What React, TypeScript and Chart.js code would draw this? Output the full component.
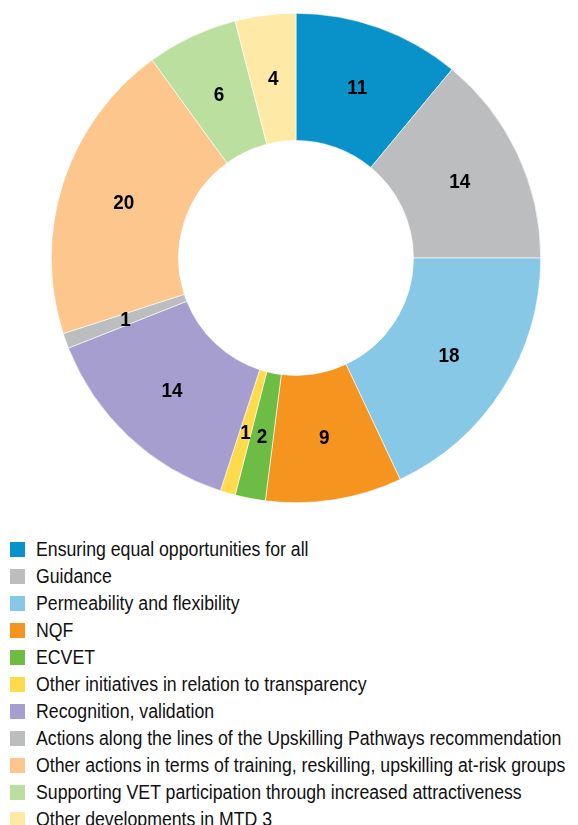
import React, { useEffect, useRef } from "react";
import { Chart, registerables } from "chart.js";

Chart.register(...registerables);

const categories = [
  "Ensuring equal opportunities for all",
  "Guidance",
  "Permeability and flexibility",
  "NQF",
  "ECVET",
  "Other initiatives in relation to transparency",
  "Recognition, validation",
  "Actions along the lines of the Upskilling Pathways recommendation",
  "Other actions in terms of training, reskilling, upskilling at-risk groups",
  "Supporting VET participation through increased attractiveness",
  "Other developments in MTD 3",
];

const values = [11, 14, 18, 9, 2, 1, 14, 1, 20, 6, 4];

const colors = [
  "#0892C9",
  "#BCBDBF",
  "#86C8E6",
  "#F5951F",
  "#6DBD45",
  "#FFDA4A",
  "#A59ECE",
  "#BCBDBF",
  "#FCC68D",
  "#BADF9F",
  "#FFE9A6",
];

const FONT = '"Liberation Sans", Arial, sans-serif';
const LEGEND_SQUEEZE = 0.885;
const LABEL_SQUEEZE = 0.9;

const labelPlugin = {
  id: "sliceLabels",
  afterDatasetsDraw(chart: any) {
    const ctx = chart.ctx;
    const meta = chart.getDatasetMeta(0);
    ctx.save();
    ctx.fillStyle = "#000";
    ctx.font = `bold 21px ${FONT}`;
    ctx.textAlign = "center";
    ctx.textBaseline = "middle";
    meta.data.forEach((arc: any, i: number) => {
      const p = arc.tooltipPosition();
      ctx.save();
      ctx.translate(p.x, p.y + 1);
      ctx.scale(LABEL_SQUEEZE, 1);
      ctx.fillText(String(values[i]), 0, 0);
      ctx.restore();
    });
    ctx.restore();
  },
};

export default function App() {
  const ref = useRef<HTMLCanvasElement>(null);
  useEffect(() => {
    if (!ref.current) return;
    const chart = new Chart(ref.current, {
      type: "doughnut",
      data: {
        labels: categories,
        datasets: [
          {
            data: values,
            backgroundColor: colors,
            borderColor: "#ffffff",
            borderWidth: 0.6,
          },
        ],
      },
      options: {
        responsive: false,
        animation: false,
        cutout: "48%",
        layout: { padding: { left: 51, right: 37, top: 13, bottom: 13 } },
        plugins: {
          legend: { display: false },
          tooltip: { enabled: false },
        },
      },
      plugins: [labelPlugin],
    });
    return () => chart.destroy();
  }, []);

  return (
    <div style={{ position: "absolute", left: 0, top: 0, width: 578, height: 825, background: "#fff", overflow: "hidden" }}>
      <canvas ref={ref} width={578} height={516} style={{ position: "absolute", left: 0, top: 0, width: 578, height: 516 }} />
      {categories.map((c, i) => (
        <div
          key={i}
          style={{
            position: "absolute",
            left: 10,
            top: 536 + i * 27,
            height: 27,
            display: "flex",
            alignItems: "center",
            whiteSpace: "nowrap",
            fontFamily: FONT,
            fontSize: 20,
            color: "#111",
          }}
        >
          <span style={{ display: "inline-block", width: 15, height: 15, background: colors[i], marginRight: 11, flex: "none" }} />
          <span style={{ display: "inline-block", transform: `scaleX(${LEGEND_SQUEEZE})`, transformOrigin: "left center" }}>{c}</span>
        </div>
      ))}
    </div>
  );
}
